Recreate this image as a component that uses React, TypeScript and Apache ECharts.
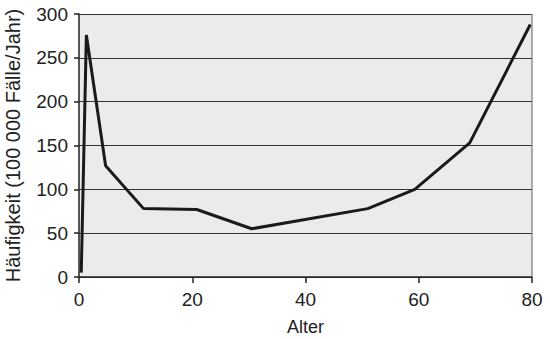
import React, { useEffect, useRef } from "react";
import * as echarts from "echarts";

const ages = [0.4, 1.3, 4.7, 11.4, 20.8, 30.5, 51.0, 59.3, 69.0, 79.7];
const incidence = [5, 276, 127, 78, 77, 55, 78, 100, 153, 288];
const yTicks = [0, 50, 100, 150, 200, 250, 300];
const xTicks = [0, 20, 40, 60, 80];

export default function App() {
  const ref = useRef<HTMLDivElement>(null);
  useEffect(() => {
    if (!ref.current) return;
    const chart = echarts.init(ref.current, undefined, { renderer: "svg" });
    const font = "Liberation Sans, Arial, sans-serif";
    chart.setOption({
      animation: false,
      grid: {
        left: 79, right: 18, top: 14, bottom: 62,
        show: true, backgroundColor: "#ebebeb", borderWidth: 0,
        containLabel: false, outerBoundsMode: "none",
      },
      xAxis: {
        type: "value",
        min: xTicks[0],
        max: xTicks[xTicks.length - 1],
        interval: 20,
        name: "Alter",
        nameLocation: "middle",
        nameGap: 41,
        nameTextStyle: { fontFamily: font, fontSize: 18, color: "#222" },
        axisLine: { show: true, lineStyle: { color: "#222", width: 1.5 } },
        axisTick: { show: true, inside: false, length: 6, lineStyle: { color: "#222", width: 1.5 } },
        axisLabel: { fontFamily: font, fontSize: 19, color: "#222", margin: 13 },
        splitLine: { show: false },
      },
      yAxis: {
        type: "value",
        min: yTicks[0],
        max: yTicks[yTicks.length - 1],
        interval: 50,
        name: "Häufigkeit (100 000 Fälle/Jahr)",
        nameLocation: "middle",
        nameGap: 56,
        nameTextStyle: { fontFamily: font, fontSize: 20, color: "#222" },
        axisLine: { show: true, lineStyle: { color: "#222", width: 1.5 } },
        axisTick: { show: true, inside: false, length: 5, lineStyle: { color: "#222", width: 1.5 } },
        axisLabel: { fontFamily: font, fontSize: 19, color: "#222", margin: 11 },
        splitLine: { show: true, lineStyle: { color: "#333", width: 1.2 } },
      },
      series: [
        {
          type: "line",
          data: ages.map((a, i) => [a, incidence[i]]),
          showSymbol: false,
          symbol: "none",
          lineStyle: { color: "#1a1a1a", width: 3 },
        },
        {
          type: "line",
          data: [[80, 0], [80, 300]],
          showSymbol: false,
          symbol: "none",
          silent: true,
          lineStyle: { color: "#777", width: 1.2 },
        },
      ],
    });
    return () => chart.dispose();
  }, []);
  return <div ref={ref} style={{ width: 550, height: 339, position: "absolute", left: 0, top: 0 }} />;
}
